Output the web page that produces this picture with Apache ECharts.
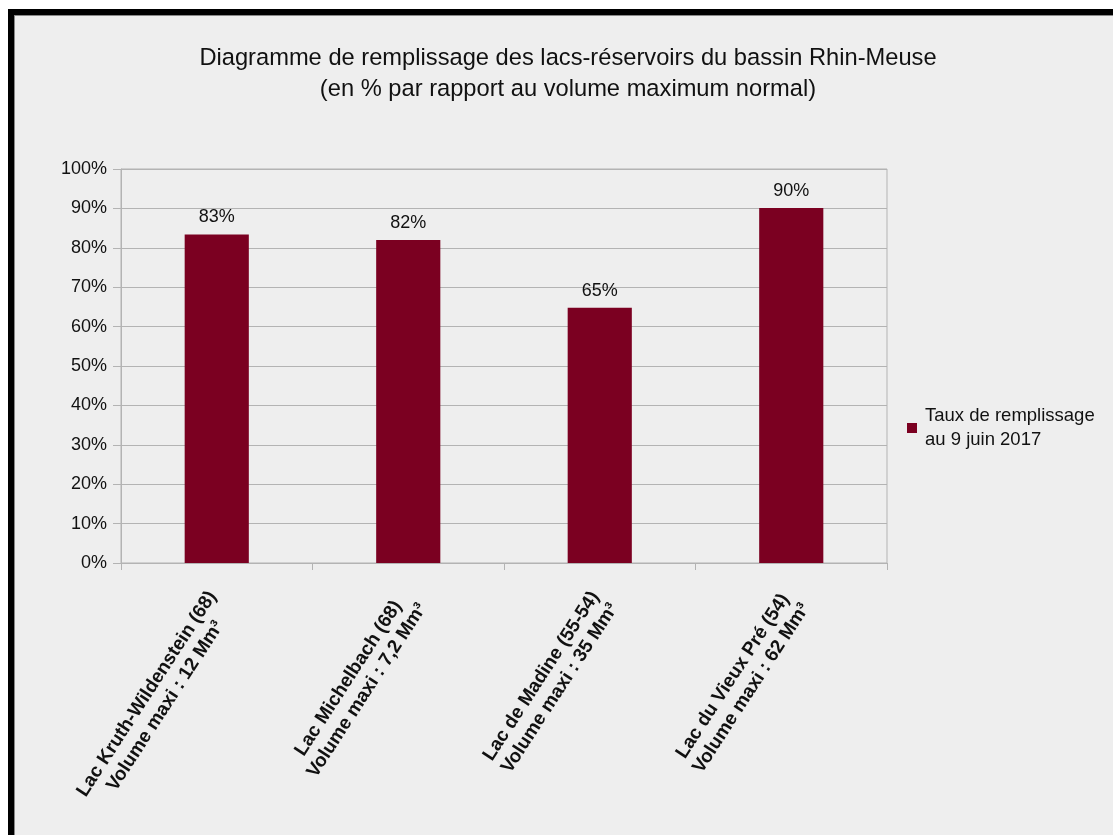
<!DOCTYPE html>
<html>
<head>
<meta charset="utf-8">
<script src="https://cdn.jsdelivr.net/npm/echarts@6/dist/echarts.min.js"></script>
<style>
  html, body { margin: 0; padding: 0; background: #ffffff; width: 1113px; height: 835px; overflow: hidden; }
  #frame { position: absolute; left: 8px; top: 9px; right: 0; bottom: 0; border-top: 6px solid #000; border-left: 6px solid #000; background: #888; }
  #inner { position: absolute; left: 1px; top: 1px; right: 0; bottom: 0; background: #eeeeee; }
  #chart { position: absolute; left: 0; top: 0; width: 1113px; height: 835px; }
</style>
</head>
<body>
<div id="frame"><div id="inner"></div></div>
<div id="chart"></div>
<script>
const titleLines = ['Diagramme de remplissage des lacs-réservoirs du bassin Rhin-Meuse', '(en % par rapport au volume maximum normal)'];
const lakeNames = ['Lac Kruth-Wildenstein (68)', 'Lac Michelbach (68)', 'Lac de Madine (55-54)', 'Lac du Vieux Pré (54)'];
const lakeVolumes = ['Volume maxi : 12 Mm³', 'Volume maxi : 7,2 Mm³', 'Volume maxi : 35 Mm³', 'Volume maxi : 62 Mm³'];
const fillRates = [83.4, 82.0, 64.8, 90.1];
const seriesName = 'Taux de remplissage au 9 juin 2017';
const legendLines = ['Taux de remplissage', 'au 9 juin 2017'];

const categories = lakeNames.map((n, i) => n + '\n' + lakeVolumes[i]);

const chart = echarts.init(document.getElementById('chart'));
const gridCol = '#b3b3b3';
const txt = '#111111';
const font = 'Liberation Sans, Arial, sans-serif';

chart.setOption({
  backgroundColor: 'transparent',
  animation: false,
  textStyle: { fontFamily: font },
  title: {
    text: titleLines.join('\n'),
    left: 568,
    top: 43,
    padding: 0,
    textAlign: 'center',
    textStyle: { fontSize: 23.7, fontWeight: 'normal', color: txt, lineHeight: 31, fontFamily: font }
  },
  legend: {
    left: 907,
    top: 392,
    padding: 0,
    icon: 'rect',
    itemWidth: 10,
    itemHeight: 10,
    data: [seriesName],
    formatter: () => legendLines.join('\n'),
    textStyle: { fontSize: 18.5, lineHeight: 24, color: txt, padding: [24, 0, 0, 3], fontFamily: font }
  },
  grid: {
    left: 121, right: 226, top: 169, bottom: 272,
    show: true, borderColor: gridCol, borderWidth: 1, backgroundColor: 'transparent',
    containLabel: false
  },
  xAxis: {
    type: 'category',
    data: categories,
    axisLine: { show: true, lineStyle: { color: gridCol, width: 1 } },
    axisTick: { show: true, alignWithLabel: false, length: 7, lineStyle: { color: gridCol } },
    axisLabel: {
      interval: 0,
      rotate: 57,
      margin: 27,
      padding: [18, 5, 0, 0],
      formatter: (v) => v.split('\n').map(s => '{c|' + s + '}').join('\n'),
      rich: {
        c: { align: 'center', fontSize: 19, fontWeight: 'bold', lineHeight: 22, color: txt, fontFamily: font }
      }
    }
  },
  yAxis: {
    type: 'value',
    min: 0, max: 100, interval: 10,
    axisLine: { show: true, lineStyle: { color: gridCol, width: 1 } },
    axisTick: { show: true, length: 8, lineStyle: { color: gridCol } },
    splitLine: { show: true, lineStyle: { color: gridCol, width: 1 } },
    axisLabel: { formatter: '{value}%', fontSize: 18, color: txt, margin: 14, fontFamily: font }
  },
  series: [{
    name: seriesName,
    type: 'bar',
    data: fillRates,
    barWidth: '33.5%',
    itemStyle: { color: '#7b0021' },
    label: {
      show: true,
      position: 'top',
      distance: 8,
      fontSize: 18,
      color: txt,
      fontFamily: font,
      formatter: (p) => Math.round(p.value) + '%'
    }
  }]
});
</script>
</body>
</html>
